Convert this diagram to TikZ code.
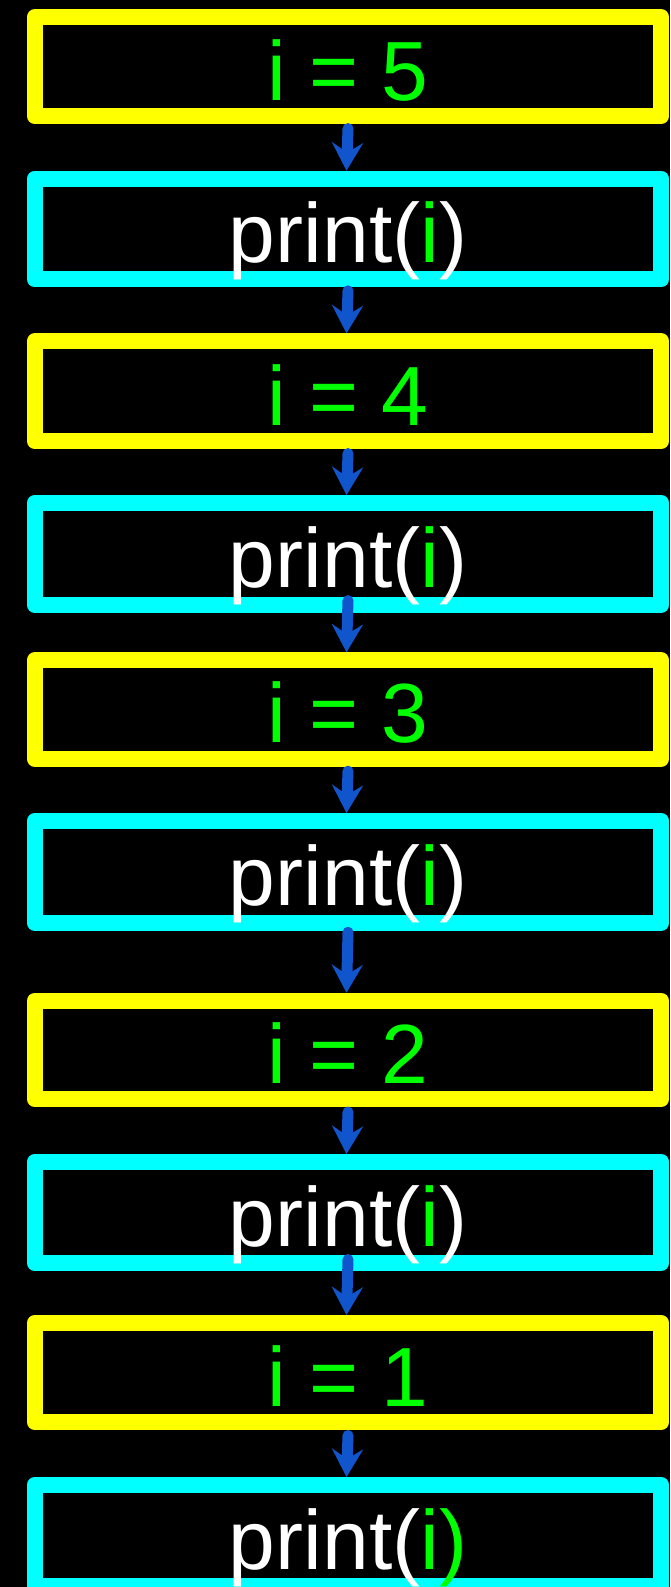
\documentclass[tikz,border=0pt]{standalone}
\usepackage{fontspec}
\setmainfont{Liberation Sans}
\usetikzlibrary{arrows.meta,calc}
\definecolor{ybox}{HTML}{FFFF00}
\definecolor{cbox}{HTML}{00FFFF}
\definecolor{grn}{HTML}{00FF00}
\definecolor{arrblue}{HTML}{1155CC}
\begin{document}
\begin{tikzpicture}[x=1pt,y=-1pt,
  boxbase/.style={draw, line width=16pt, line join=round, minimum width=626.7pt, inner sep=0pt, outer sep=0pt},
  ybx/.style={boxbase, draw=ybox, minimum height=#1pt},
  cbx/.style={boxbase, draw=cbox, minimum height=#1pt},
  txtbase/.style={anchor=base, inner sep=0pt, outer sep=0pt, font=\fontsize{84pt}{90pt}\selectfont},
  ytxt/.style={txtbase, text=grn},
  ctxt/.style={txtbase, text=white},
  arr/.style={draw=arrblue, line width=11pt, line cap=round, -{Stealth[length=28pt,width=31pt,inset=10pt]}}
]
\fill[black] (0,0) rectangle (670,1587);
\useasboundingbox (0,0) rectangle (670,1587);

\node[ybx=98.7]  (y1) at (348,66.7) {};
\node[cbx=100.6] (c1) at (348,229) {};
\node[ybx=99.7]  (y2) at (348,391.2) {};
\node[cbx=101.7] (c2) at (348,553.9) {};
\node[ybx=98.3]  (y3) at (348,709.5) {};
\node[cbx=101.7] (c3) at (348,871.9) {};
\node[ybx=98.3]  (y4) at (348,1049.9) {};
\node[cbx=101]   (c4) at (348,1212.5) {};
\node[ybx=99]    (y5) at (348,1372.5) {};
\node[cbx=101]   (c5) at (348,1535.5) {};

\node[ytxt] (ty1) at ($(y1.south)+(0,-16)$) {i = 5};
\node[ctxt] (tc1) at ($(c1.south)+(0,-17)$) {print(\textcolor{grn}{i})};
\node[ytxt] (ty2) at ($(y2.south)+(0,-16)$) {i = 4};
\node[ctxt] (tc2) at ($(c2.south)+(0,-17)$) {print(\textcolor{grn}{i})};
\node[ytxt] (ty3) at ($(y3.south)+(0,-16)$) {i = 3};
\node[ctxt] (tc3) at ($(c3.south)+(0,-17)$) {print(\textcolor{grn}{i})};
\node[ytxt] (ty4) at ($(y4.south)+(0,-16)$) {i = 2};
\node[ctxt] (tc4) at ($(c4.south)+(0,-17)$) {print(\textcolor{grn}{i})};
\node[ytxt] (ty5) at ($(y5.south)+(0,-16)$) {i = 1};
\node[ctxt] (tc5) at ($(c5.south)+(0,-17)$) {print(\textcolor{grn}{i)}};

\draw[arr] ($(y1.south)+(0,12.5)$) -- ($(c1.north)+(-1.5,-8)$);
\draw[arr] ($(c1.south)+(0,11.5)$) -- ($(y2.north)+(-1.5,-8)$);
\draw[arr] ($(y2.south)+(0,12.5)$) -- ($(c2.north)+(-1.5,-8)$);
\draw[arr] ($(c2.south)+(0,-4.2)$) -- ($(y3.north)+(-1.5,-8)$);
\draw[arr] ($(y3.south)+(0,12.5)$) -- ($(c3.north)+(-1.5,-8)$);
\draw[arr] ($(c3.south)+(0,9.5)$) -- ($(y4.north)+(-1.5,-8)$);
\draw[arr] ($(y4.south)+(0,13)$) -- ($(c4.north)+(-1.5,-8)$);
\draw[arr] ($(c4.south)+(0,-3.5)$) -- ($(y5.north)+(-1.5,-8)$);
\draw[arr] ($(y5.south)+(0,13.5)$) -- ($(c5.north)+(-1.5,-8)$);
\end{tikzpicture}
\end{document}
